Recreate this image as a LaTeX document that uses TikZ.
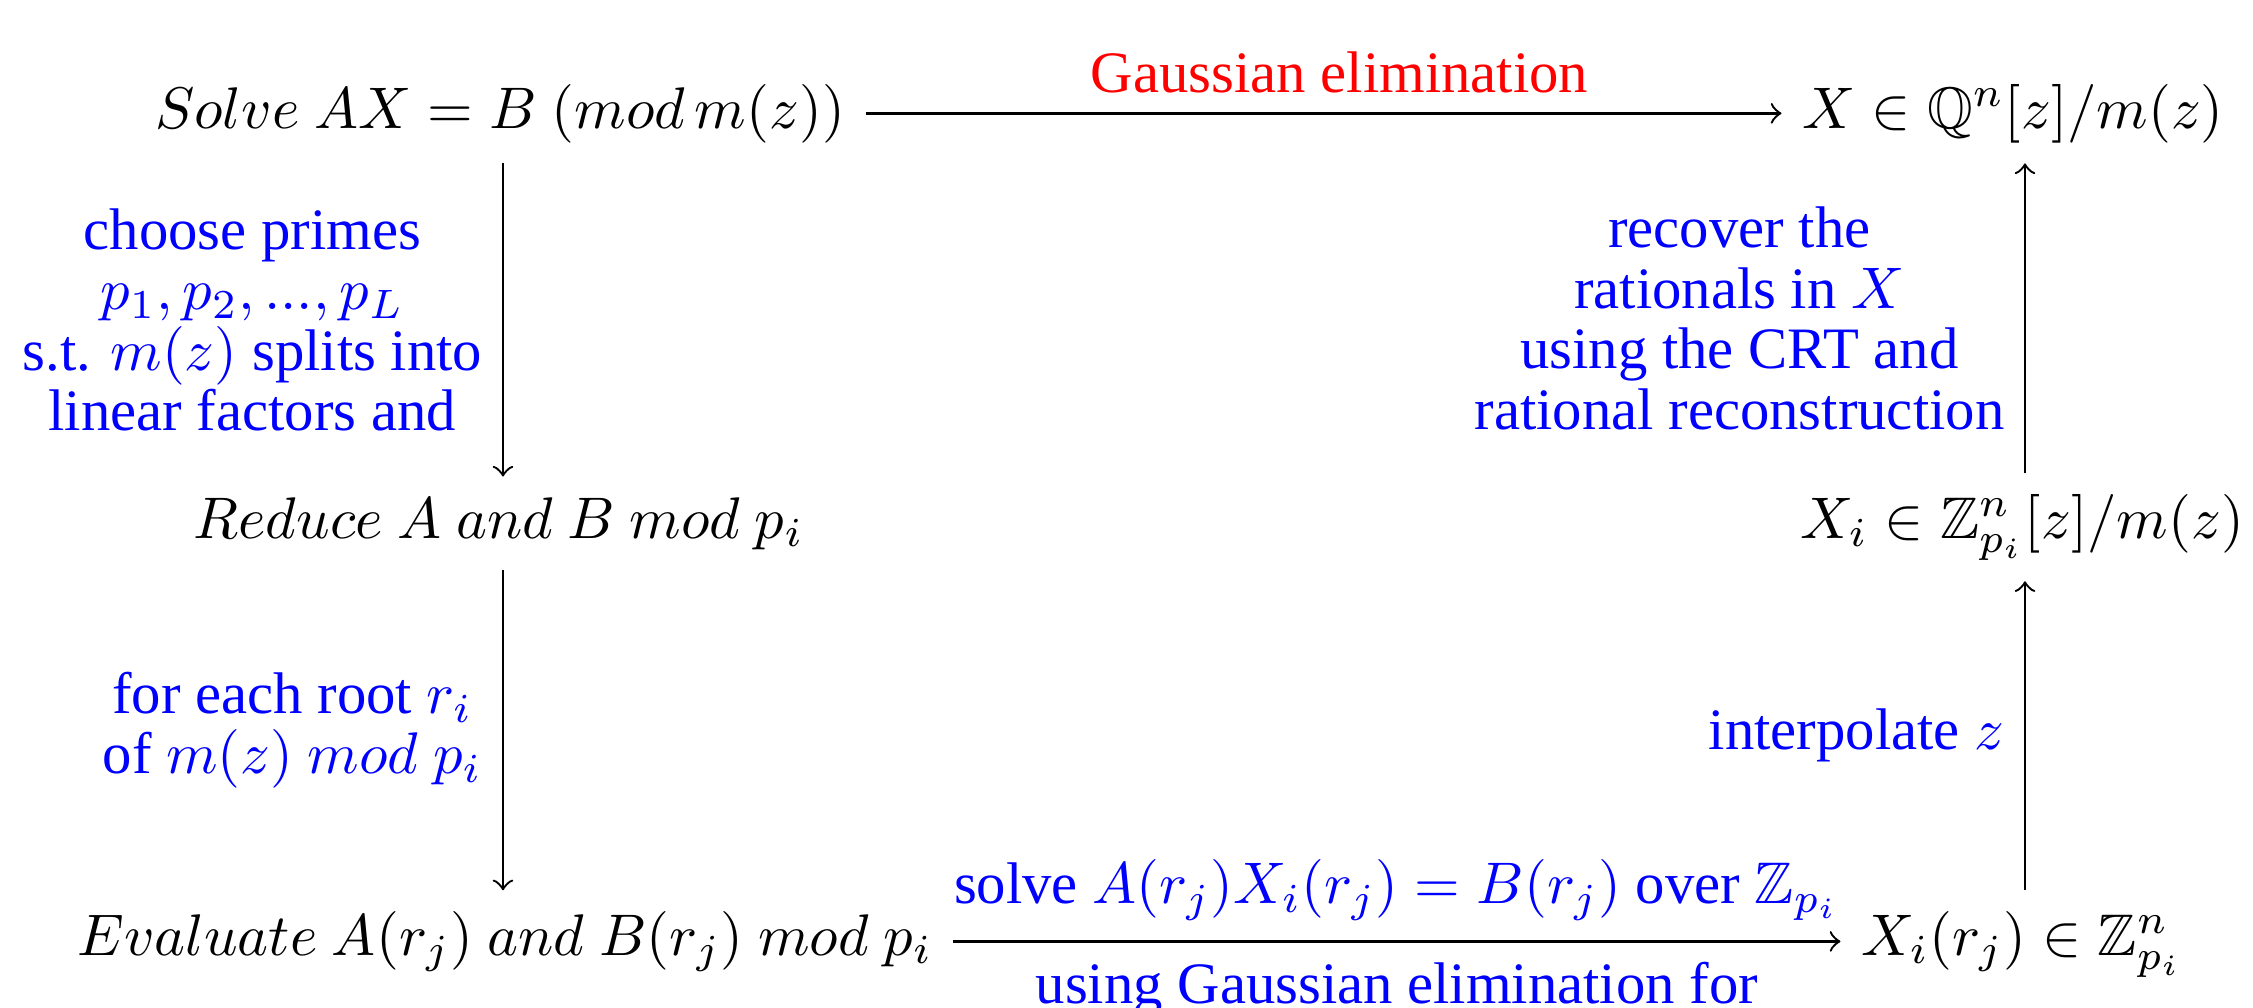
\documentclass[tikz,border=0pt]{standalone}
\usepackage{amssymb}
\usepackage[no-math]{fontspec}
\setmainfont{Liberation Serif}
\begin{document}
\begin{tikzpicture}[x=0.17036pt,y=-0.17036pt,
  mnode/.style={inner sep=3.333pt, anchor=base, font=\fontsize{10}{12}\selectfont},
  lbl/.style={text=blue, align=center, inner sep=3.333pt, font=\fontsize{10}{10.3}\selectfont},
  arr/.style={->, line width=0.4pt}]
\useasboundingbox (0,0) rectangle (2253,1007);
\coordinate (colL) at (503,0);
\coordinate (colR) at (2025,0);
\node[mnode] (solve) at (500,128) {$Solve\ AX=B\ (mod\,m(z))$};
\node[mnode] (xq) at (2013,128) {$X\in\mathbb{Q}^n[z]/m(z)$};
\node[mnode] (reduce) at (499,538) {$Reduce\ A\ and\ B\ mod\ p_i$};
\node[mnode] (xi) at (2022,538) {$X_i\in\mathbb{Z}^n_{p_i}[z]/m(z)$};
\node[mnode] (eval) at (505,955) {$Evaluate\ A(r_j)\ and\ B(r_j)\ mod\ p_i$};
\node[mnode] (xr) at (2022,955) {$X_i(r_j)\in\mathbb{Z}^n_{p_i}$};
\draw[arr] (solve.east) -- node[midway, above, text=red, xshift=2.7pt, inner sep=3.333pt, font=\fontsize{10}{12}\selectfont] (lgauss) {Gaussian elimination} (xq.west);
\draw[arr] (solve.south -| colL) -- node[midway, left, lbl] (lprimes) {choose primes\\ $p_1,p_2,...,p_L$\\ s.t. $m(z)$ splits into\\ linear factors and} (reduce.north -| colL);
\draw[arr] (reduce.south -| colL) -- node[midway, left, lbl] (lroot) {for each root $r_i$\\ of $m(z)\ mod\ p_i$} (eval.north -| colL);
\draw[arr] (eval.east) -- node[midway, above, lbl] (lsolve) {solve $A(r_j)X_i(r_j)=B(r_j)$ over $\mathbb{Z}_{p_i}$} node[midway, below, lbl] (lusing) {using Gaussian elimination for} (eval.east -| xr.west);
\draw[arr] (xr.north -| colR) -- node[midway, left, lbl] (linterp) {interpolate $z$} (xi.south -| colR);
\draw[arr] (xi.north -| colR) -- node[midway, left, lbl] (lrecover) {recover the\\ rationals in $X$\\ using the CRT and\\ rational reconstruction} (xq.south -| colR);
\end{tikzpicture}
\end{document}
